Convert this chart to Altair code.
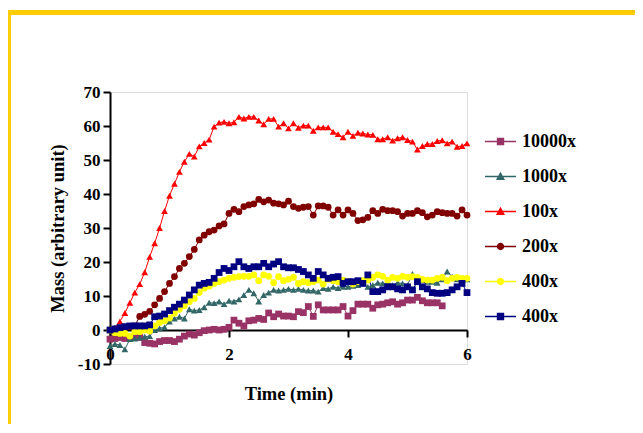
import altair as alt
import pandas as pd

FONT = "Liberation Serif"

# sampling every 5 s (minutes)
TIME = [round(i * 5 / 60, 4) for i in range(73)]

SERIES = ["10000x", "1000x", "100x", "200x", "400x", "400x "]
COLORS = ["#993366", "#336666", "#FF0000", "#800000", "#FFFF00", "#000080"]
SHAPES = ["square", "triangle-up", "triangle-up", "circle", "circle", "square"]

V_10000 = [-2.7, -2.5, -2.2, -2.5, -2.2, -2.2, -2.2, -3.7, -3.9, -4.1,
           -3.4, -3.1, -3.1, -3.4, -2.7, -1.8, -1.2, -1.5, -0.8, -0.2,
           0, 0.2, 0, 0.2, 0.8, 2.9, 2.0, 1.2, 2.7, 2.9,
           3.4, 3.1, 5.0, 3.9, 4.7, 4.1, 4.1, 3.9, 5.4, 5.1,
           6.9, 4.0, 7.4, 5.9, 5.9, 5.9, 5.9, 6.9, 4.1, 5.7,
           7.6, 7.6, 7.6, 6.4, 7.4, 7.6, 8.0, 8.3, 7.6, 8.0,
           8.8, 8.8, 9.6, 8.6, 8.0, 8.0, 8.0, 7.1]
V_1000 = [-4.7, -4.1, -4.4, -5.7, -2.7, -2.5, -2.2, -2.0, -1.8, 0,
          0.5, 0.8, 2.5, 3.4, 3.9, 3.4, 6.1, 5.7, 5.9, 6.7,
          8.0, 7.9, 8.4, 7.6, 8.6, 8.4, 9.0, 10.3, 11.8, 10.8,
          8.4, 10.3, 11.0, 11.8, 11.6, 11.8, 12.1, 11.8, 12.1, 11.8,
          11.6, 11.6, 11.3, 12.3, 12.1, 12.7, 12.3, 12.7, 12.7, 13.0,
          13.2, 13.7, 12.7, 13.2, 13.9, 13.7, 13.7, 13.2, 13.9, 13.7,
          13.2, 16.5, 15.2, 14.7, 14.2, 14.2, 13.9, 14.9, 17.2, 15.7,
          14.9, 15.2, 14.9]
V_100 = [0, 0.5, 2.5, 5, 8, 11, 13.5, 17, 21.5, 25.5,
         30, 35, 39.5, 43, 46.5, 49.5, 51.8, 51, 54, 55,
         56, 59.8, 61, 61.2, 60.8, 61.1, 62.7, 62.2, 62.7, 62.7,
         61.6, 60.5, 62.1, 62.1, 59.8, 60.8, 59.3, 60.8, 59.5, 60.1,
         60.1, 58.6, 59.6, 59.6, 59.6, 58.3, 57.6, 56.7, 58.3, 57.1,
         58, 57.8, 57.5, 57.4, 56.1, 56.1, 56.7, 55.7, 56.4, 56.7,
         55.9, 55.4, 53.1, 54.1, 54.7, 54.7, 55.6, 55.8, 54.9, 55.4,
         53.9, 54.1, 54.9]
V_200 = [0, 0.3, 0.5, 0.8, 1.0, 1.2, 4.0, 4.6, 5.5, 7.4,
         9.3, 11.3, 13.7, 15.7, 18.1, 19.6, 21.6, 23.7, 26.5, 27.9,
         28.9, 29.4, 30.6, 31.2, 34.3, 35.5, 34.8, 36.3, 36.8, 37.1,
         38.4, 37.7, 38.2, 37.3, 37.1, 36.8, 37.9, 36.3, 35.8, 36.1,
         36.3, 33.8, 36.5, 36.5, 36.1, 33.8, 35.3, 33.8, 35.3, 34.3,
         32.2, 32.4, 33.1, 35.1, 34.3, 35.5, 35.1, 35.1, 34.8, 33.5,
         34.3, 34.3, 35.1, 34.5, 33.3, 33.8, 34.8, 34.5, 34.3, 34.3,
         33.5, 35.3, 33.8]
V_400Y = [0, -0.8, -1.0, -1.0, -1.8, -0.5, -0.5, 0, -0.3, 1.2,
          2.2, 2.7, 3.5, 4.9, 6.1, 7.1, 8.3, 9.3, 11, 12.3,
          12.9, 13.7, 14.2, 14.7, 15.2, 15.5, 15.7, 15.8, 15.8, 16.2,
          14.5, 16.2, 15.8, 13.9, 15.7, 14.5, 14.9, 15.5, 13.7, 14.2,
          13.9, 14.2, 14.7, 13.5, 14.9, 14.5, 14.2, 14.7, 14.2, 13.5,
          14.2, 14.5, 14.7, 15.5, 16.2, 15.8, 14.7, 15.5, 15.2, 15.8,
          15.5, 15.7, 15.5, 14.9, 14.7, 14.7, 15.2, 15.5, 14.5, 15.2,
          15.5, 15.2, 15.2]
V_400N = [0, 0.3, 0.7, 1.0, 1.2, 1.2, 1.2, 1.2, 1.5, 3.9,
          4.1, 4.7, 5.7, 6.7, 7.6, 8.8, 10.3, 11.8, 13.2, 13.7,
          14.0, 15.2, 16.9, 18.1, 17.5, 18.6, 20.1, 18.6, 18.1, 18.6,
          18.6, 19.6, 18.6, 19.4, 20.1, 18.6, 18.3, 18.3, 17.8, 17.2,
          16.2, 15.2, 17.2, 16.2, 15.2, 15.5, 15.7, 13.7, 14.2, 14.2,
          14.5, 13.7, 16.2, 11.3, 11.3, 11.8, 12.7, 12.7, 12.1, 11.8,
          12.7, 11.8, 14.2, 12.7, 12.1, 11.0, 10.8, 10.8, 11.0, 11.8,
          12.7, 13.7, 11.0]

VALUES = [V_10000, V_1000, V_100, V_200, V_400Y, V_400N]

rows = []
for k, (name, vals) in enumerate(zip(SERIES, VALUES)):
    for t, v in zip(TIME, vals):
        rows.append({"t": t, "v": v, "series": name, "order": k,
                     "col": COLORS[k], "shp": SHAPES[k]})
df = pd.DataFrame(rows)

W, H = 357, 272
LBL = 17
TTL = 18.5

xs = alt.X("t:Q", scale=alt.Scale(domain=[0, 6], nice=False),
           axis=alt.Axis(values=[0, 2, 4, 6], title="Time (min)", offset=-34,
                         tickSize=7, tickWidth=2, domainWidth=2,
                         domainColor="black", tickColor="black",
                         labelColor="black", labelFont=FONT, labelFontSize=LBL,
                         labelFontWeight="bold", labelPadding=9,
                         labelFlush=False, grid=False,
                         titleFont=FONT, titleFontSize=TTL,
                         titleFontWeight="bold", titleColor="black",
                         titlePadding=22))
ys = alt.Y("v:Q", scale=alt.Scale(domain=[-10, 70], nice=False),
           axis=alt.Axis(values=list(range(-10, 71, 10)),
                         labelExpr="datum.value + ''",
                         title="Mass (arbitrary unit)",
                         tickSize=7, tickWidth=2, domainWidth=2,
                         domainColor="black", tickColor="black",
                         labelColor="black", labelFont=FONT, labelFontSize=LBL,
                         labelFontWeight="bold", labelPadding=3,
                         labelFlush=False, grid=False,
                         titleFont=FONT, titleFontSize=TTL,
                         titleFontWeight="bold", titleColor="black",
                         titlePadding=10))

base = alt.Chart(df)
lines = base.mark_line(strokeWidth=1).encode(
    x=xs, y=ys, detail="series:N",
    color=alt.Color("col:N", scale=None),
    order="t:Q")
points = base.mark_point(filled=True, opacity=1, size=46).encode(
    x=xs, y=ys,
    color=alt.Color("col:N", scale=None),
    shape=alt.Shape("shp:N", scale=None))

PATHS = [
    "M-1,0H1M-0.19,-0.19H0.19V0.19H-0.19Z",
    "M-1,0H1M-0.21,0.17L0,-0.21L0.21,0.17Z",
    "M-1,0H1M-0.21,0.17L0,-0.21L0.21,0.17Z",
    "M-1,0H1M-0.19,0A0.19,0.19,0,1,0,0.19,0A0.19,0.19,0,1,0,-0.19,0Z",
    "M-1,0H1M-0.19,0A0.19,0.19,0,1,0,0.19,0A0.19,0.19,0,1,0,-0.19,0Z",
    "M-1,0H1M-0.19,-0.19H0.19V0.19H-0.19Z",
]
leg = alt.Legend(title=None, orient="none", legendX=374, legendY=33,
                 symbolSize=961, symbolStrokeWidth=1.5,
                 labelFont=FONT, labelFontSize=18, labelFontWeight="bold",
                 labelColor="black", labelOffset=5, rowPadding=9)
leg_df = pd.DataFrame({"series": SERIES})
legend_layer = alt.Chart(leg_df).transform_filter("false").mark_point(
    filled=True, opacity=1, strokeWidth=1.5).encode(
    fill=alt.Fill("series:N", scale=alt.Scale(domain=SERIES, range=COLORS), legend=leg),
    stroke=alt.Stroke("series:N", scale=alt.Scale(domain=SERIES, range=COLORS), legend=leg),
    shape=alt.Shape("series:N", scale=alt.Scale(domain=SERIES, range=PATHS), legend=leg),
)

one = pd.DataFrame({"a": [0]})
frame_top = alt.Chart(one).mark_rect(color="#FFCC00").encode(
    x=alt.value(-102), x2=alt.value(533), y=alt.value(-82), y2=alt.value(-77))
frame_left = alt.Chart(one).mark_rect(color="#FFCC00").encode(
    x=alt.value(-102), x2=alt.value(-99), y=alt.value(-82), y2=alt.value(345))

chart = alt.layer(frame_top, frame_left, lines, points, legend_layer).properties(
    width=W, height=H,
    autosize=alt.AutoSizeParams(type="none"),
    padding={"left": 102, "top": 84, "right": 168, "bottom": 60},
).configure_view(stroke=None).configure(background="white")

chart.save("out.html", embed_options={"renderer": "svg", "actions": False})
